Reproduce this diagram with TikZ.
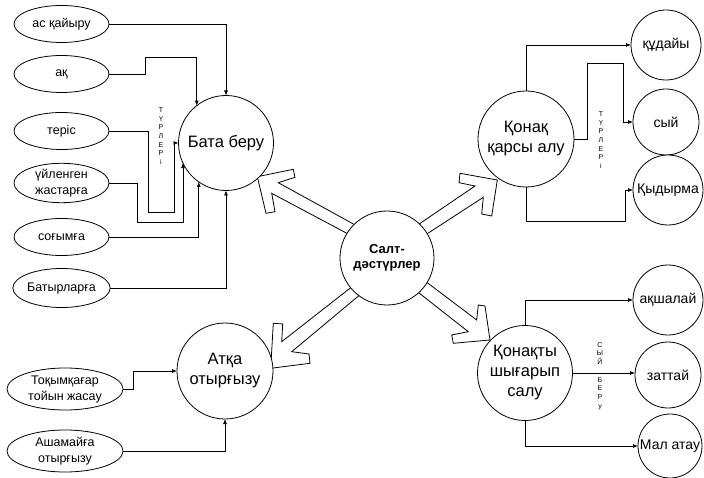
\documentclass[tikz,border=0pt]{standalone}
\usepackage{fontspec}
\setmainfont{Liberation Sans}
\usetikzlibrary{arrows.meta,shapes.geometric,calc}
\begin{document}
\begin{tikzpicture}[x=1pt,y=-1pt,
  every node/.style={inner sep=0pt, outer sep=0pt},
  big/.style={circle, draw, line width=0.8pt, fill=white, minimum size=95pt, align=center, font=\fontsize{16.5}{20}\selectfont},
  small/.style={circle, draw, line width=0.8pt, fill=white, minimum size=68pt, align=center, font=\fontsize{14}{16}\selectfont},
  oval/.style={ellipse, draw, line width=0.8pt, fill=white, minimum width=95pt, minimum height=37pt, align=center, font=\fontsize{12.5}{16}\selectfont},
  conn/.style={draw, line width=0.7pt, -{Latex[length=5pt,width=4pt]}},
  blockarrow/.style={draw, line width=0.8pt, fill=white, line join=miter},
  vlabel/.style={align=center, font=\fontsize{7}{8.7}\selectfont}
]
\useasboundingbox (0,0) rectangle (704,478);

% block arrows from the centre
\draw[blockarrow] (257.3,176.7) -- (293.3,169.3) -- (295,177.3) -- (278.3,182.7) -- (357,226) -- (350,235) -- (271.7,193.3) -- (275,211.7) -- (266,213.3) -- cycle;
\draw[blockarrow] (497.3,180) -- (460,173.3) -- (459,182.7) -- (475,186) -- (415.5,226.5) -- (424.5,235.5) -- (483.3,197.3) -- (481.7,214) -- (491.7,216) -- cycle;
\draw[blockarrow] (270.7,368.3) -- (273.3,323.3) -- (282.7,324) -- (281.7,341.7) -- (353.5,285.5) -- (361.5,293.5) -- (291.7,351.7) -- (309,354) -- (310,363.3) -- cycle;
\draw[blockarrow] (490,340) -- (485,306) -- (478.3,305) -- (476.7,320) -- (425,281) -- (416.5,291) -- (468.3,331.7) -- (451.7,335) -- (453.3,343.3) -- cycle;

% main circles
\node[big] (bata) at (226,143) {Бата беру};
\node[big, minimum size=96pt] (konak) at (526,139) {Қонақ\\қарсы алу};
\node[big, minimum size=94pt, font=\bfseries\fontsize{13}{15.5}\selectfont] (salt) at (387,258) {Салт-\\дәстүрлер};
\node[big] (shyg) at (525,373) {Қонақты\\шығарып\\салу};
\node[big, minimum size=96pt] (atka) at (225,371) {Атқа\\отырғызу};

% small circles
\node[small, minimum size=70pt] (kudai) at (666,45) {құдайы};
\node[small, minimum size=66pt] (syi) at (666,122) {сый};
\node[small, minimum size=70pt] (kyd) at (668,190) {Қыдырма};
\node[small, minimum size=70pt] (aksh) at (668,300) {ақшалай};
\node[small, minimum size=66pt] (zatt) at (668,375) {заттай};
\node[small, minimum size=64pt] (mal) at (670,446) {Мал атау};

% ellipses
\node[oval] (e1) at (61.5,24) {ас қайыру};
\node[oval] (e2) at (61.5,74) {ақ};
\node[oval] (e3) at (61.5,131) {теріс};
\node[oval, minimum height=39pt] (e4) at (61.5,183) {үйленген\\жастарға};
\node[oval] (e5) at (61.5,237) {соғымға};
\node[oval, minimum height=39pt] (e6) at (61.5,288) {Батырларға};
\node[oval, minimum width=116pt, minimum height=42pt] (tokym) at (65,389) {Тоқымқағар\\тойын жасау};
\node[oval, minimum width=116pt, minimum height=42pt] (ashamai) at (65,451) {Ашамайға\\отырғызу};

% vertical labels
\node[vlabel] (tl) at (161,136) {Т\\Ү\\Р\\Л\\Е\\Р\\і};
\node[vlabel] (tr) at (601,140) {Т\\Ү\\Р\\Л\\Е\\Р\\і};
\node[vlabel] (sb) at (600,376) {С\\Ы\\Й\\\strut\\Б\\Е\\Р\\у};

% connectors to Бата беру
\draw[conn] (e1.east) -| (bata.north);
\draw[conn] (e2.east) -| (145,57) -| (bata.128);
\draw[conn] (e3.east) -| (148,212) -| (174,143) -- (bata.west);
\draw[conn] (e4.east) -| (137,222) -| (bata.205);
\draw[conn] (e5.east) -| (bata.235);
\draw[conn] (e6.east) -| (bata.south);

% connectors from Қонақ қарсы алу
\draw[conn] (konak.north) |- (kudai.west);
\draw[conn] (konak.east) -| (587,63) -| (623,122) -- (syi.west);
\draw[conn] (konak.south) |- (625,221) |- (kyd.west);

% connectors from Қонақты шығарып салу
\draw[conn] (shyg.north) |- (aksh.west);
\draw[conn] (shyg.east) -- (shyg.east -| zatt.west);
\draw[conn] (shyg.south) |- (mal.west);

% connectors to Атқа отырғызу
\draw[conn] (tokym.east) -- ++(10,0) |- (atka.west);
\draw[conn] (ashamai.east) -| (atka.south);
\end{tikzpicture}
\end{document}
